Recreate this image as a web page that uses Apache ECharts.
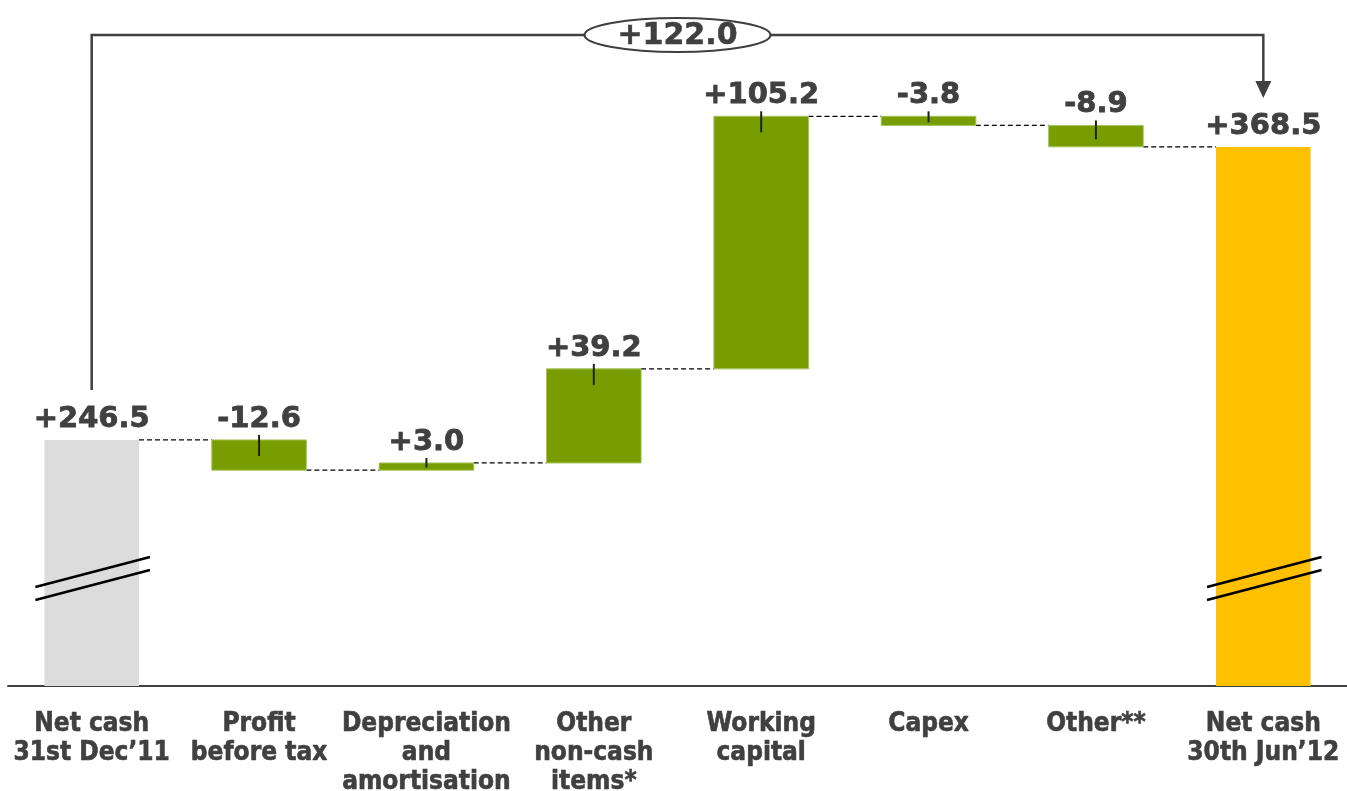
<!DOCTYPE html>
<html>
<head>
<meta charset="utf-8">
<script src="https://cdn.jsdelivr.net/npm/echarts@6/dist/echarts.min.js"></script>
<style>
  html, body { margin: 0; padding: 0; background: #ffffff; }
  #chart { width: 1347px; height: 791px; }
</style>
</head>
<body>
<div id="chart"></div>
<script>
// Net cash bridge, 31 Dec 2011 -> 30 Jun 2012
const categories = [
  'Net cash\n31st Dec\u201911',
  'Profit\nbefore tax',
  'Depreciation\nand\namortisation',
  'Other\nnon-cash\nitems*',
  'Working\ncapital',
  'Capex',
  'Other**',
  'Net cash\n30th Jun\u201912'
];
const openingNetCash = 246.5;
const closingNetCash = 368.5;
const changes = [-12.6, 3.0, 39.2, 105.2, -3.8, -8.9];
const totalChange = 122.0;

// value axis starts above zero (broken axis drawn with slash marks)
const axisFloor = 144;
const axisCeil = 426;

const TEXT = '#404040';
const COLORS = ['#DCDCDC', '#789D00', '#FFC000'];
const VALUE_FONT = 'bold 29px "DejaVu Sans", Verdana, sans-serif';

function signed(v) { return (v >= 0 ? '+' : '-') + Math.abs(v).toFixed(1); }

// build [index, low, high, value, kind] rows and connector levels
const barRows = [];
const connectors = [];
barRows.push([0, axisFloor, openingNetCash, openingNetCash, 0]);
let running = openingNetCash;
connectors.push([0, running]);
changes.forEach((d, k) => {
  const next = running + d;
  barRows.push([k + 1, Math.min(running, next), Math.max(running, next), d, 1]);
  running = next;
  connectors.push([k + 1, running]);
});
barRows.push([categories.length - 1, axisFloor, closingNetCash, closingNetCash, 2]);

function renderBar(params, api) {
  const i = api.value(0), low = api.value(1), high = api.value(2);
  const val = api.value(3), kind = api.value(4);
  const pTop = api.coord([i, high]);
  const pBot = api.coord([i, low]);
  const w = api.size([1, 0])[0] * 0.565;
  const x = pTop[0] - w / 2;
  const h = pBot[1] - pTop[1];
  const children = [{
    type: 'rect',
    shape: { x: x, y: pTop[1], width: w, height: h },
    style: kind === 1
      ? { fill: COLORS[kind], stroke: '#A9C35E', lineWidth: 1 }
      : { fill: COLORS[kind] }
  }];
  if (kind === 1) {
    children.push({
      type: 'line',
      shape: { x1: pTop[0], y1: pTop[1] - 5, x2: pTop[0], y2: pTop[1] + Math.min(16, h * 0.65) },
      style: { stroke: '#1f2410', lineWidth: 2 }
    });
  } else {
    // axis break slashes
    const yb = pBot[1];
    [0, 13].forEach(off => {
      children.push({
        type: 'line',
        shape: { x1: x - 9, y1: yb - 99 + off, x2: x + w + 11, y2: yb - 129 + off },
        style: { stroke: '#000000', lineWidth: 2.5 }
      });
    });
  }
  children.push({
    type: 'text',
    x: pTop[0], y: pTop[1] - 6,
    style: {
      text: kind === 1 ? signed(val) : '+' + val.toFixed(1),
      fill: TEXT, font: VALUE_FONT, align: 'center', verticalAlign: 'bottom',
      stroke: TEXT, lineWidth: 0.8
    }
  });
  return { type: 'group', children: children };
}

function renderConnector(params, api) {
  const i = api.value(0), level = api.value(1);
  const w = api.size([1, 0])[0] * 0.565;
  const a = api.coord([i, level]);
  const b = api.coord([i + 1, level]);
  return {
    type: 'line',
    shape: { x1: a[0] + w / 2, y1: a[1], x2: b[0] - w / 2, y2: b[1] },
    style: { stroke: '#000000', lineWidth: 1.2, lineDash: [5, 3] }
  };
}

const chart = echarts.init(document.getElementById('chart'), null, { renderer: 'canvas' });
chart.setOption({
  animation: false,
  grid: { left: 8, right: 0, top: 9, bottom: 105, containLabel: false, outerBoundsMode: 'none' },
  xAxis: {
    type: 'category',
    data: categories,
    axisLine: { show: true, lineStyle: { color: TEXT, width: 2 } },
    axisTick: { show: false },
    axisLabel: {
      interval: 0,
      margin: 24,
      color: TEXT,
      fontFamily: '"DejaVu Sans Condensed", "DejaVu Sans", sans-serif',
      fontWeight: 'bold',
      fontSize: 26,
      lineHeight: 29,
      textBorderColor: TEXT,
      textBorderWidth: 0.6
    }
  },
  yAxis: {
    type: 'value', min: axisFloor, max: axisCeil,
    show: false, splitLine: { show: false }
  },
  series: [
    {
      type: 'custom',
      renderItem: renderConnector,
      data: connectors,
      encode: { x: 0, y: 1 },
      z: 1
    },
    {
      type: 'custom',
      renderItem: renderBar,
      data: barRows,
      encode: { x: 0, y: [1, 2] },
      z: 2
    }
  ]
});

// overall change bracket from the opening to the closing bar
(function drawBracket() {
  const xL = chart.convertToPixel({ xAxisIndex: 0 }, 0);
  const xR = chart.convertToPixel({ xAxisIndex: 0 }, categories.length - 1);
  const yTop = 35;
  const cx = (xL + xR) / 2;
  chart.setOption({
    graphic: [
      {
        type: 'polyline',
        shape: { points: [[xL, 390], [xL, yTop], [xR, yTop], [xR, 84]] },
        style: { stroke: TEXT, lineWidth: 2.5, fill: null },
        z: 10
      },
      {
        type: 'polygon',
        shape: { points: [[xR - 8, 81], [xR + 8, 81], [xR, 98]] },
        style: { fill: TEXT },
        z: 10
      },
      {
        type: 'ellipse',
        shape: { cx: cx, cy: yTop, rx: 93, ry: 17 },
        style: { fill: '#ffffff', stroke: TEXT, lineWidth: 2.2 },
        z: 11
      },
      {
        type: 'text',
        x: cx, y: yTop + 1,
        style: {
          text: signed(totalChange),
          fill: TEXT, font: 'bold 30px "DejaVu Sans", Verdana, sans-serif',
          align: 'center', verticalAlign: 'middle',
          stroke: TEXT, lineWidth: 0.6
        },
        z: 12
      }
    ]
  });
})();
</script>
</body>
</html>
